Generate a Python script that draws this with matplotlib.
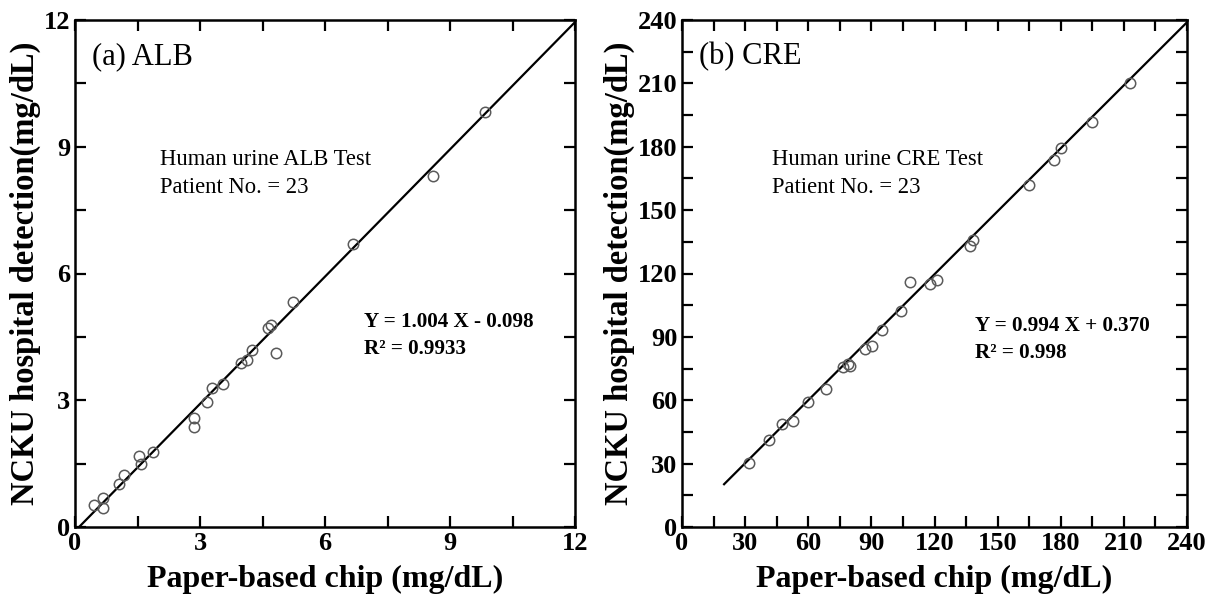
import matplotlib
matplotlib.use("Agg")
import matplotlib.pyplot as plt
import numpy as np
from matplotlib.ticker import MultipleLocator

plt.rcParams['font.family'] = ['Liberation Serif', 'DejaVu Serif']

# ALB data (paper chip vs hospital)
alb_chip = [0.46, 0.66, 0.68, 1.06, 1.18, 1.54, 1.58, 1.88, 2.86, 2.86, 3.16, 3.30,
            3.54, 3.98, 4.14, 4.24, 4.62, 4.70, 4.82, 5.23, 6.67, 8.60, 9.84]
alb_hosp = [0.52, 0.44, 0.68, 1.02, 1.23, 1.68, 1.49, 1.77, 2.57, 2.37, 2.95, 3.30,
            3.38, 3.89, 3.95, 4.19, 4.72, 4.78, 4.11, 5.33, 6.70, 8.31, 9.83]
alb_fit = (1.004, -0.098)

# CRE data
cre_chip = [31.8, 41.5, 47.7, 52.9, 60.0, 68.3, 76.7, 79.0, 80.0, 87.0, 90.2, 94.9,
            104.1, 108.4, 117.9, 121.0, 137.0, 138.5, 164.9, 176.8, 180.1, 195.0, 212.9]
cre_hosp = [30.4, 41.2, 48.6, 50.2, 59.3, 65.2, 75.6, 77.0, 76.2, 84.1, 85.8, 93.3,
            102.2, 116.1, 115.0, 116.9, 133.0, 136.0, 161.9, 173.7, 179.3, 191.9, 210.0]
cre_fit = (0.994, 0.370)

panels = [
    dict(x=alb_chip, y=alb_hosp, fit=alb_fit, lim=12, major=3, minor=1.5, fit_x=(0, 12.2),
         tag="(a) ALB", note="Human urine ALB Test\nPatient No. = 23",
         eq="Y = 1.004 X - 0.098", r2="R\u00b2 = 0.9933",
         box=[75 / 1214, 72 / 599, 500 / 1214, 507 / 599], note_x=0.17, eq_x=0.578, eq_y=0.404),
    dict(x=cre_chip, y=cre_hosp, fit=cre_fit, lim=240, major=30, minor=15, fit_x=(20, 242),
         tag="(b) CRE", note="Human urine CRE Test\nPatient No. = 23",
         eq="Y = 0.994 X + 0.370", r2="R\u00b2 = 0.998",
         box=[682 / 1214, 72 / 599, 505 / 1214, 507 / 599], note_x=0.178, eq_x=0.58, eq_y=0.396),
]

fig = plt.figure(figsize=(12.14, 5.99), dpi=100)

for p in panels:
    ax = fig.add_axes(p['box'])
    ax.plot(p['x'], p['y'], 'o', mfc='none', mec='#5a5a5a', ms=7.5, mew=1.1, zorder=3)
    fx = np.array(p['fit_x'])
    ax.plot(fx, p['fit'][0] * fx + p['fit'][1], color='black', lw=1.6, zorder=2)

    ax.set_xlim(0, p['lim'])
    ax.set_ylim(0, p['lim'])
    ax.xaxis.set_major_locator(MultipleLocator(p['major']))
    ax.yaxis.set_major_locator(MultipleLocator(p['major']))
    ax.xaxis.set_minor_locator(MultipleLocator(p['minor']))
    ax.yaxis.set_minor_locator(MultipleLocator(p['minor']))
    ax.tick_params(which='both', direction='in', top=True, right=True,
                   length=8, width=1.6)
    ax.tick_params(labelsize=19)
    for lab in ax.get_xticklabels() + ax.get_yticklabels():
        lab.set_fontweight('bold')
    for s in ax.spines.values():
        s.set_linewidth(1.8)

    ax.set_xlabel("Paper-based chip (mg/dL)", fontsize=23, fontweight='bold', labelpad=7)
    ax.set_ylabel("NCKU hospital detection(mg/dL)", fontsize=23.5, fontweight='bold', labelpad=2)

    ax.text(0.034, 0.927, p['tag'], transform=ax.transAxes, fontsize=22, va='center')
    ax.text(p['note_x'], 0.697, p['note'], transform=ax.transAxes, fontsize=16.3,
            va='center', linespacing=1.45)
    ax.text(p['eq_x'], p['eq_y'], p['eq'], transform=ax.transAxes, fontsize=15.2,
            fontweight='bold', va='center')
    ax.text(p['eq_x'], p['eq_y'] - 0.052, p['r2'], transform=ax.transAxes, fontsize=15.2,
            fontweight='bold', va='center')

fig.savefig("out.png", dpi=100)
